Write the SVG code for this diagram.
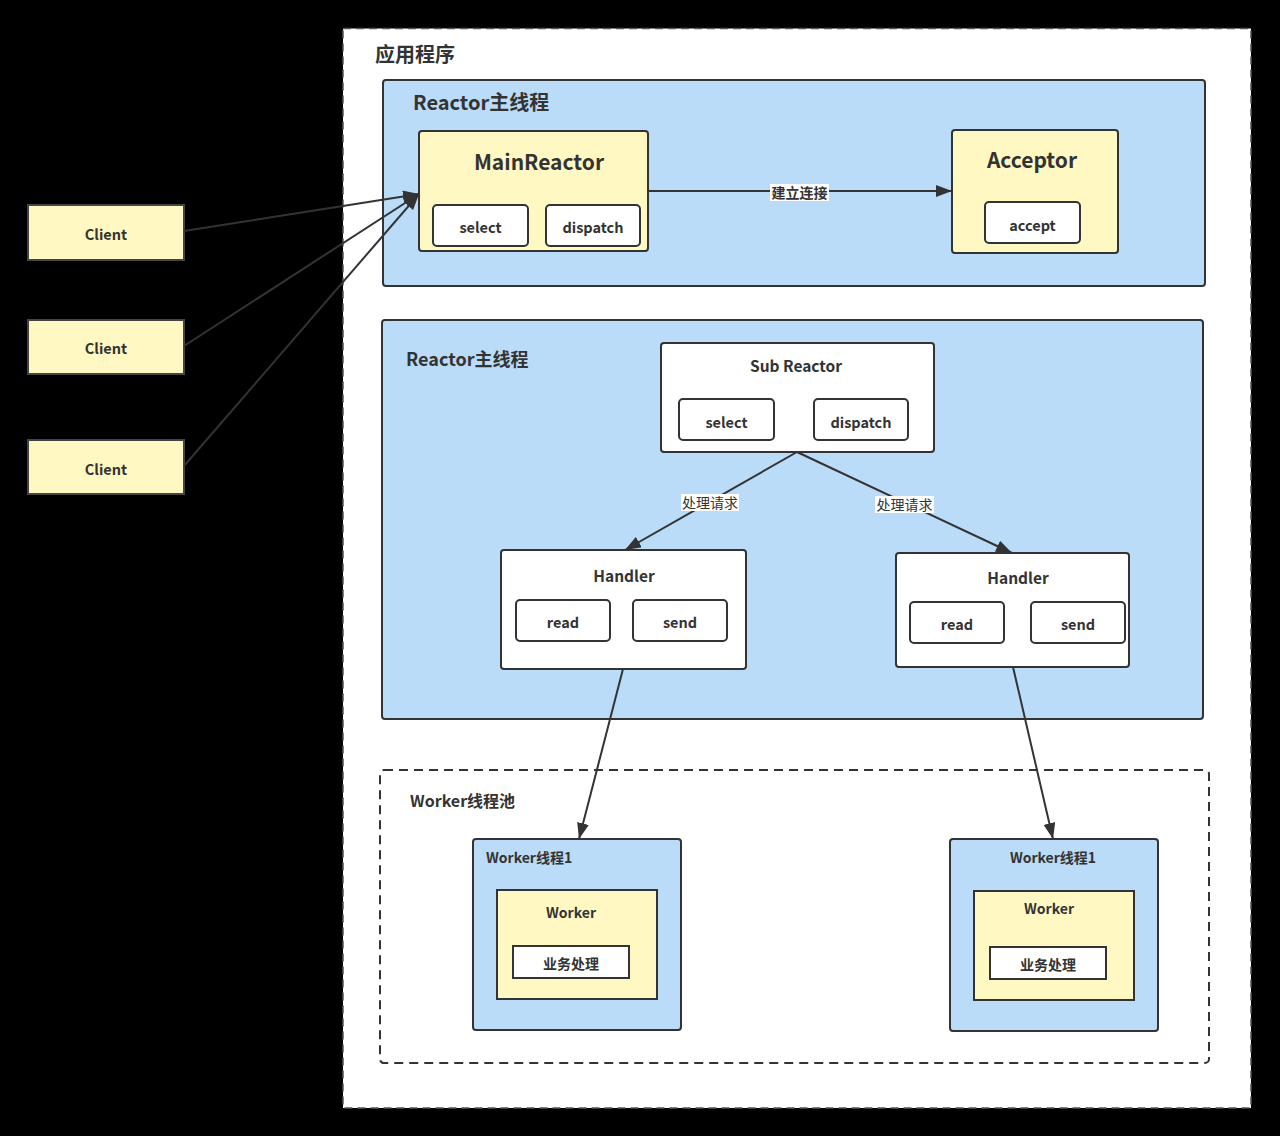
<svg xmlns="http://www.w3.org/2000/svg" width="1280" height="1136" viewBox="0 0 1280 1136">
<defs>
<style>
.t{font-family:"Noto Sans CJK SC","Noto Sans",sans-serif;font-weight:bold;fill:#333;text-anchor:middle;dominant-baseline:central}
.l{text-anchor:start}
.blue{fill:#badcf8;stroke:#333;stroke-width:2}
.yel{fill:#fff8c2;stroke:#333;stroke-width:2}
.wh{fill:#fff;stroke:#333;stroke-width:2}
.cl{fill:#fff8c2;stroke:#444;stroke-width:2}
.ln{fill:none;stroke:#333;stroke-width:2}
.lab{font-family:"Noto Sans CJK SC",sans-serif;font-size:14px;fill:#333;text-anchor:middle;dominant-baseline:central}
</style>
<marker id="ah" viewBox="0 0 16 12" refX="16" refY="6" markerWidth="16" markerHeight="12" markerUnits="userSpaceOnUse" orient="auto">
<path d="M0,0 L16,6 L0,12 Z" fill="#333"/>
</marker>
</defs>
<rect width="1280" height="1136" fill="#000"/>

<g id="app">
<rect x="343" y="28.5" width="908" height="1079.5" fill="#fff" stroke="#555" stroke-width="1.5" stroke-dasharray="8,5"/>
<text class="t l" x="375" y="53" font-size="20">应用程序</text>
</g>

<g id="reactor-main">
<rect class="blue" x="383" y="80" width="822" height="206" rx="3"/>
<text class="t l" x="413" y="101" font-size="20">Reactor主线程</text>
</g>

<g id="mainreactor">
<rect class="yel" x="419" y="131" width="229" height="120" rx="3"/>
<text class="t" x="539" y="160.5" font-size="21">MainReactor</text>
<rect class="wh" x="433" y="205" width="95" height="41" rx="4"/>
<text class="t" x="480.5" y="226" font-size="14.5">select</text>
<rect class="wh" x="546" y="205" width="94" height="41" rx="4"/>
<text class="t" x="593" y="226" font-size="14.5">dispatch</text>
</g>

<g id="acceptor">
<rect class="yel" x="952" y="130" width="166" height="123" rx="3"/>
<text class="t" x="1032" y="158.5" font-size="21">Acceptor</text>
<rect class="wh" x="985" y="202" width="95" height="41" rx="4"/>
<text class="t" x="1032.5" y="224" font-size="14.5">accept</text>
</g>

<g id="client1"><rect class="cl" x="28" y="205" width="156" height="55"/><text class="t" x="106" y="233" font-size="14.5">Client</text></g>
<g id="client2"><rect class="cl" x="28" y="320" width="156" height="54"/><text class="t" x="106" y="347" font-size="14.5">Client</text></g>
<g id="client3"><rect class="cl" x="28" y="440" width="156" height="54"/><text class="t" x="106" y="468" font-size="14.5">Client</text></g>

<g id="reactor-sub">
<rect class="blue" x="382" y="320" width="821" height="399" rx="3"/>
<text class="t l" x="406" y="358" font-size="18">Reactor主线程</text>
</g>

<g id="subreactor">
<rect class="wh" x="661" y="343" width="273" height="109" rx="3"/>
<text class="t" x="796" y="365" font-size="15.5">Sub Reactor</text>
<rect class="wh" x="679" y="399" width="95" height="41" rx="4"/>
<text class="t" x="726.5" y="421" font-size="14.5">select</text>
<rect class="wh" x="814" y="399" width="94" height="41" rx="4"/>
<text class="t" x="861" y="421" font-size="14.5">dispatch</text>
</g>

<g id="handler1">
<rect class="wh" x="501" y="550" width="245" height="119" rx="3"/>
<text class="t" x="624" y="575" font-size="15.5">Handler</text>
<rect class="wh" x="516" y="600" width="94" height="41" rx="4"/>
<text class="t" x="563" y="621" font-size="14.5">read</text>
<rect class="wh" x="633" y="600" width="94" height="41" rx="4"/>
<text class="t" x="680" y="621" font-size="14.5">send</text>
</g>

<g id="handler2">
<rect class="wh" x="896" y="553" width="233" height="114" rx="3"/>
<text class="t" x="1018" y="577" font-size="15.5">Handler</text>
<rect class="wh" x="910" y="602" width="94" height="41" rx="4"/>
<text class="t" x="957" y="623" font-size="14.5">read</text>
<rect class="wh" x="1031" y="602" width="94" height="41" rx="4"/>
<text class="t" x="1078" y="623" font-size="14.5">send</text>
</g>

<g id="workerpool">
<rect x="380" y="770" width="829" height="293" rx="4" fill="none" stroke="#333" stroke-width="2" stroke-dasharray="9,6"/>
<text class="t l" x="410" y="800" font-size="16">Worker线程池</text>
</g>

<g id="worker1">
<rect class="blue" x="473" y="839" width="208" height="191" rx="3"/>
<text class="t l" x="486" y="857" font-size="14">Worker线程1</text>
<rect class="yel" x="497" y="890" width="160" height="109"/>
<text class="t" x="571" y="912" font-size="14">Worker</text>
<rect class="wh" x="513" y="946" width="116" height="32"/>
<text class="t" x="571" y="963" font-size="14">业务处理</text>
</g>

<g id="worker2">
<rect class="blue" x="950" y="839" width="208" height="192" rx="3"/>
<text class="t" x="1053" y="857" font-size="14">Worker线程1</text>
<rect class="yel" x="974" y="891" width="160" height="109"/>
<text class="t" x="1049" y="908" font-size="14">Worker</text>
<rect class="wh" x="990" y="947" width="116" height="32"/>
<text class="t" x="1048" y="964" font-size="14">业务处理</text>
</g>

<g id="connectors">
<line class="ln" x1="184" y1="231" x2="419" y2="194" marker-end="url(#ah)"/>
<line class="ln" x1="184" y1="346" x2="419" y2="194" marker-end="url(#ah)"/>
<line class="ln" x1="184" y1="466" x2="419" y2="194" marker-end="url(#ah)"/>
<line class="ln" x1="648" y1="191" x2="952" y2="191" marker-end="url(#ah)"/>
<rect x="770" y="184" width="59" height="17" fill="#fff"/>
<text class="lab" x="799.5" y="192" font-weight="bold">建立连接</text>
<line class="ln" x1="797" y1="452" x2="625" y2="550" marker-end="url(#ah)"/>
<rect x="681" y="494" width="58" height="17" fill="#fff"/>
<text class="lab" x="710" y="502">处理请求</text>
<line class="ln" x1="797" y1="452" x2="1012" y2="553" marker-end="url(#ah)"/>
<rect x="875" y="496" width="59" height="17" fill="#fff"/>
<text class="lab" x="904.5" y="504">处理请求</text>
<line class="ln" x1="623" y1="669" x2="579" y2="839" marker-end="url(#ah)"/>
<line class="ln" x1="1013" y1="667" x2="1053" y2="839" marker-end="url(#ah)"/>
</g>
</svg>
